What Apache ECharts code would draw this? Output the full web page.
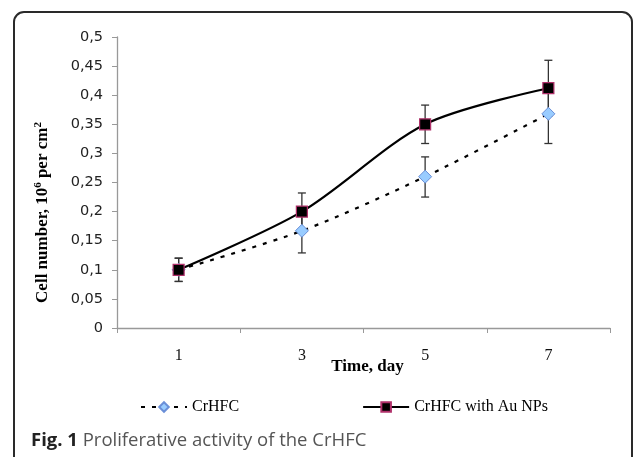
<!DOCTYPE html>
<html><head><meta charset="utf-8">
<script src="https://cdn.jsdelivr.net/npm/echarts@6/dist/echarts.min.js"></script>
<style>html,body{margin:0;padding:0;background:#fff}#c{width:633px;height:457px}</style>
</head><body><div id="c"></div>
<script>
const days = ['1', '3', '5', '7'];
const crhfc = [0.1, 0.167, 0.26, 0.368];
const crhfcLow = [0.08, 0.129, 0.225, 0.317];
const crhfcHigh = [0.12, 0.205, 0.294, 0.42];
const au = [0.1, 0.2, 0.35, 0.412];
const auLow = [0.08, 0.168, 0.317, 0.364];
const auHigh = [0.12, 0.232, 0.383, 0.46];
const yTicks = { min: 0, max: 0.5, interval: 0.05 };

const serif = '"Liberation Serif", "DejaVu Serif", serif';
function errItem(lowArr, highArr) {
  return days.map((d, i) => [i, lowArr[i], highArr[i]]);
}
function errRender(params, api) {
  const x = api.value(0);
  const lo = api.coord([x, api.value(1)]);
  const hi = api.coord([x, api.value(2)]);
  const w = 4;
  const st = { stroke: '#333', lineWidth: 1.3 };
  return { type: 'group', children: [
    { type: 'line', shape: { x1: lo[0], y1: lo[1], x2: hi[0], y2: hi[1] }, style: st },
    { type: 'line', shape: { x1: lo[0] - w, y1: lo[1], x2: lo[0] + w, y2: lo[1] }, style: st },
    { type: 'line', shape: { x1: hi[0] - w, y1: hi[1], x2: hi[0] + w, y2: hi[1] }, style: st }
  ]};
}
const chart = echarts.init(document.getElementById('c'), null, { renderer: 'canvas' });
chart.setOption({
  animation: false,
  backgroundColor: '#fff',
  graphic: [
    { type: 'rect', shape: { x: 14, y: 12, width: 618, height: 480, r: 10 }, style: { fill: 'none', stroke: '#2a2a2a', lineWidth: 2 }, z: 0 },
    { type: 'text', left: 31, top: 431, style: { text: '{b|Fig. 1} Proliferative activity of the CrHFC', rich: { b: { fontWeight: 'bold', fontSize: 18.5, fill: '#222', fontFamily: '"Open Sans", sans-serif' } }, fontSize: 18.5, fill: '#555', fontFamily: '"Open Sans", sans-serif' } }
  ],
  grid: { left: 117, right: 23, top: 37, bottom: 129 },
  legend: {
    bottom: 37, left: 135, itemGap: 123, itemWidth: 46, itemHeight: 12,
    textStyle: { fontFamily: serif, fontSize: 16, color: '#000' },
    data: ['CrHFC', 'CrHFC with Au NPs']
  },
  xAxis: {
    type: 'category', data: days, boundaryGap: true,
    name: 'Time, day', nameLocation: 'middle', nameGap: 30, nameMoveOverlap: false,
    nameTextStyle: { fontFamily: serif, fontWeight: 'bold', fontSize: 17, color: '#000', padding: [0, 0, 0, 8] },
    axisLine: { lineStyle: { color: '#999', width: 1.3 } },
    axisTick: { show: true, length: 5, lineStyle: { color: '#999' } },
    axisLabel: { fontFamily: serif, fontSize: 16, color: '#111', margin: 20 }
  },
  yAxis: {
    type: 'value', min: yTicks.min, max: yTicks.max, interval: yTicks.interval,
    name: '{n|Cell number, 10}{s|6}{n| per cm}{s|2}', nameLocation: 'middle', nameGap: 64, nameMoveOverlap: false,
    nameTextStyle: { padding: [0, 60, 0, 0], rich: {
      n: { fontFamily: serif, fontWeight: 'bold', fontSize: 17, color: '#000' },
      s: { fontFamily: serif, fontWeight: 'bold', fontSize: 11, color: '#000', verticalAlign: 'top', padding: [0, 0, 9, 0] }
    } },
    splitLine: { show: false },
    axisLine: { show: true, lineStyle: { color: '#999', width: 1.3 } },
    axisTick: { show: true, length: 5, lineStyle: { color: '#999' } },
    axisLabel: { fontFamily: '"DejaVu Sans", sans-serif', fontSize: 14.5, color: '#222', margin: 14,
      formatter: v => String(Math.round(v * 100) / 100).replace('.', ',') }
  },
  series: [
    { type: 'custom', name: 'errC', renderItem: errRender, data: errItem(crhfcLow, crhfcHigh), z: 1, silent: true },
    { type: 'custom', name: 'errA', renderItem: errRender, data: errItem(auLow, auHigh), z: 1, silent: true },
    { type: 'line', name: 'CrHFC', data: crhfc, smooth: 0.3, z: 3,
      symbol: 'diamond', symbolSize: 13,
      lineStyle: { color: '#000', width: 2.2, type: [4, 7] },
      itemStyle: { color: '#99ccff', borderColor: '#6a8fd8', borderWidth: 1 } },
    { type: 'line', name: 'CrHFC with Au NPs', data: au, smooth: 0.3, z: 4,
      symbol: 'rect', symbolSize: 11,
      lineStyle: { color: '#000', width: 2.2 },
      itemStyle: { color: '#000', borderColor: '#b0306a', borderWidth: 1.2 } }
  ]
});
</script></body></html>
